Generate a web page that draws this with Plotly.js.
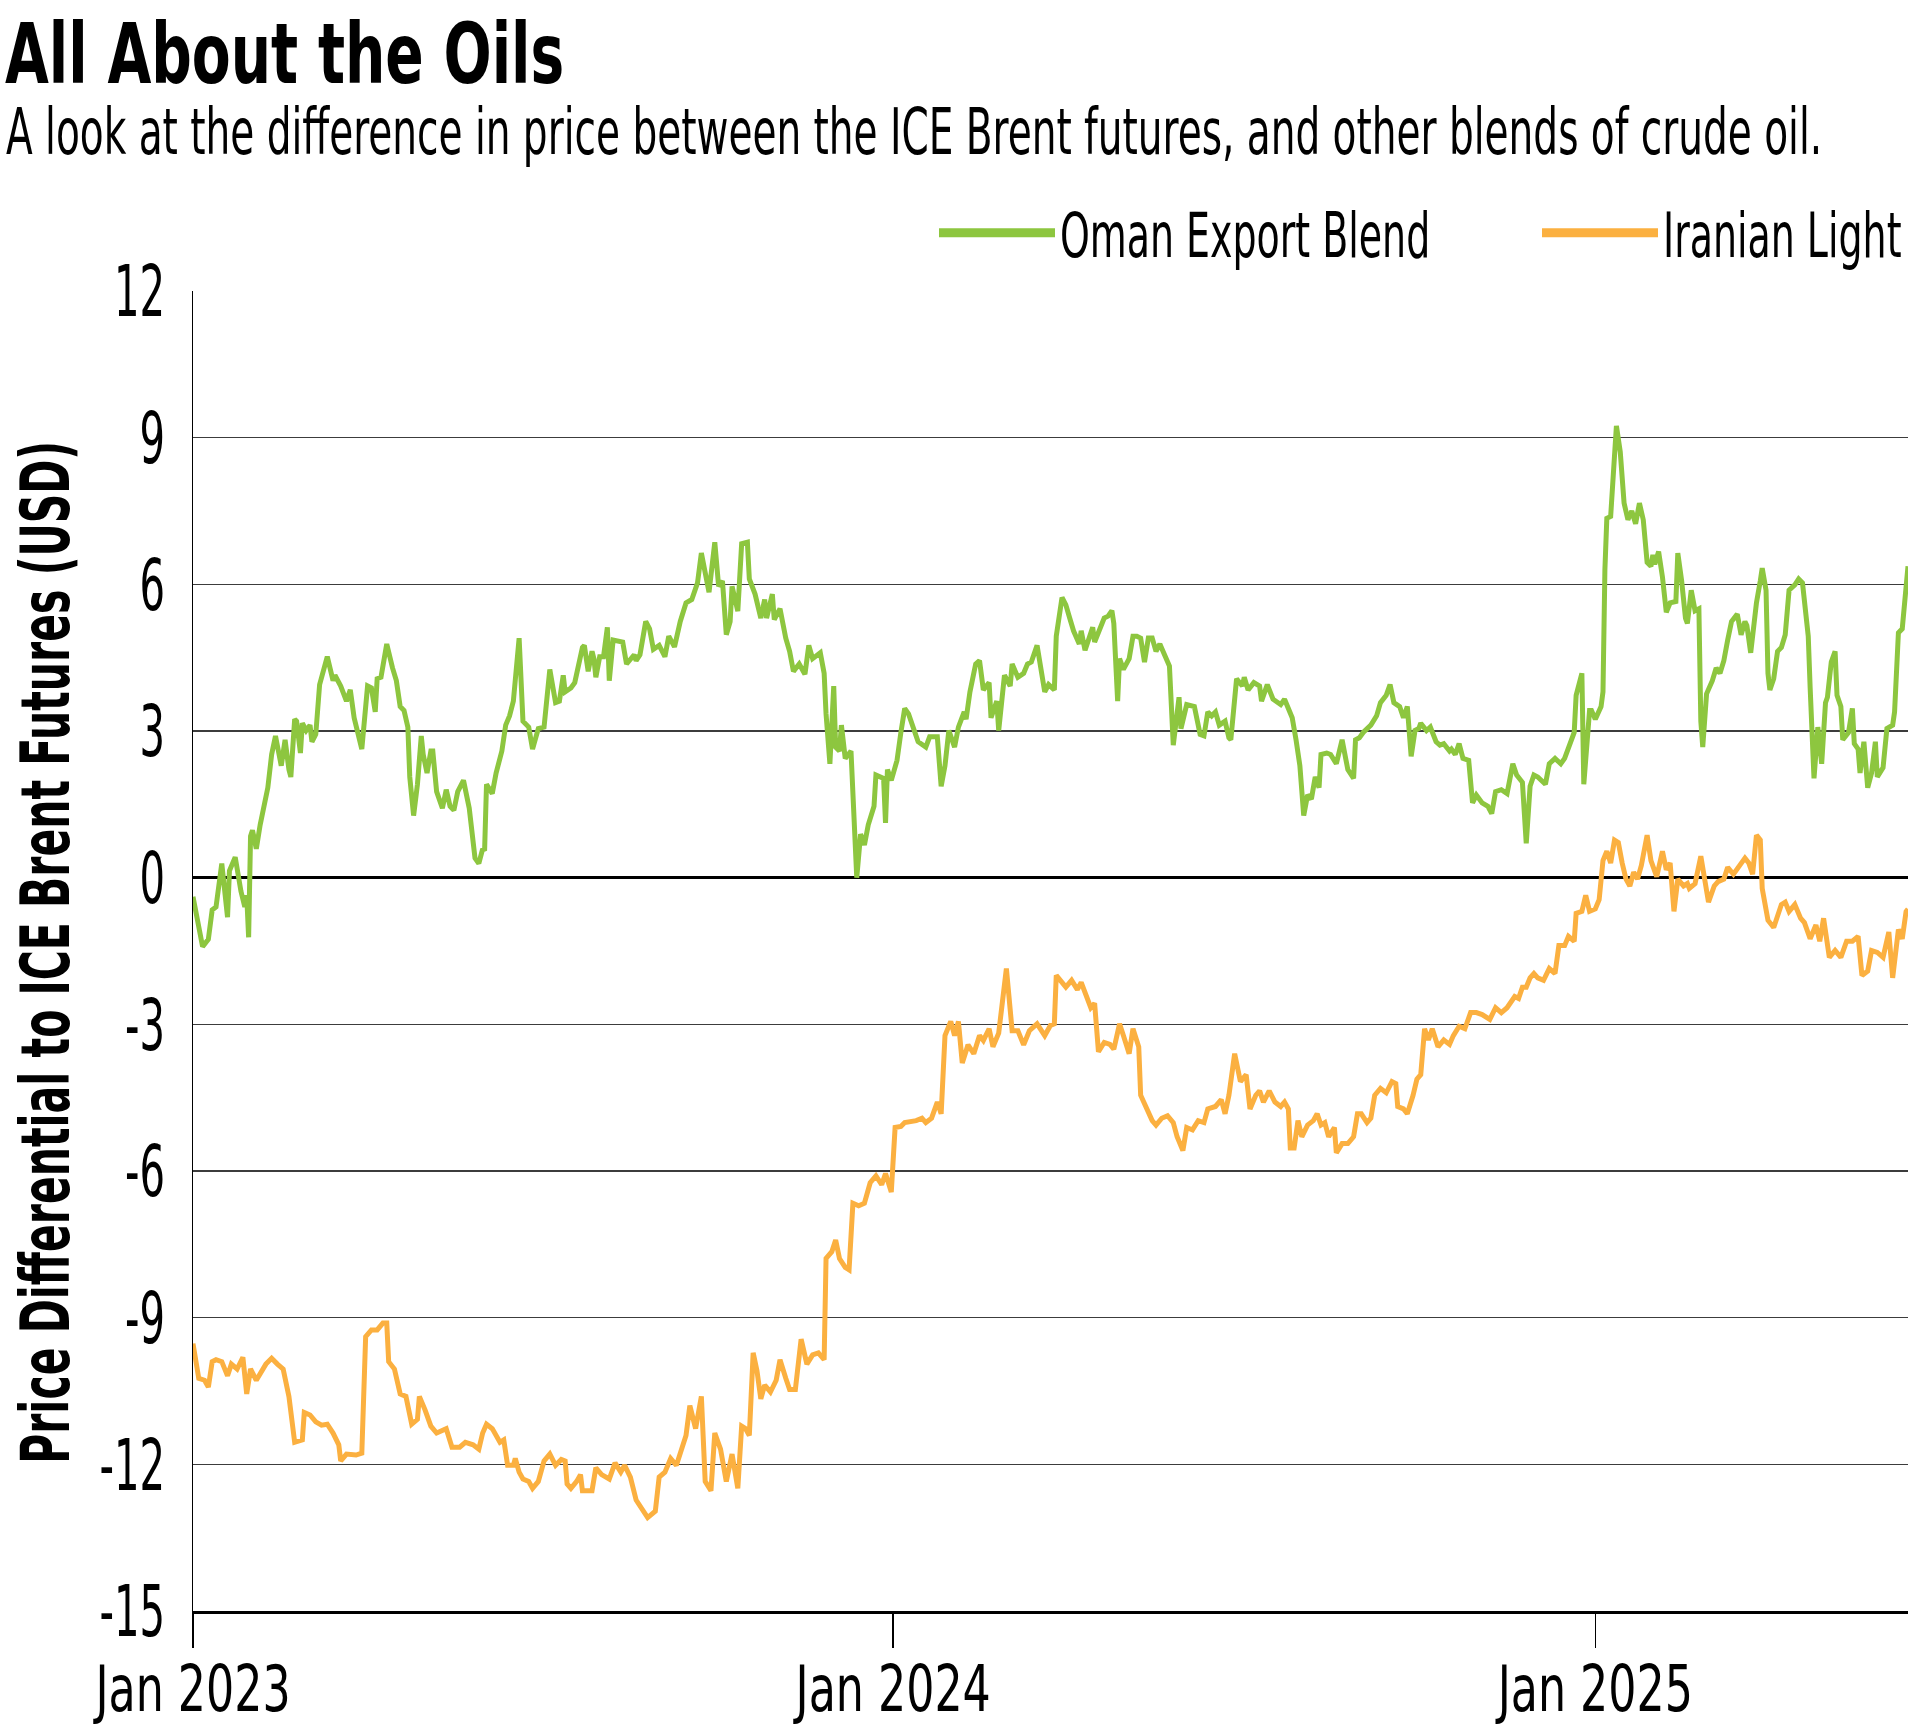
<!DOCTYPE html>
<html>
<head>
<meta charset="utf-8">
<script src="https://cdn.plot.ly/plotly-3.0.1.min.js"></script>
<style>
  html, body { margin: 0; padding: 0; background: #ffffff; }
  #chart { width: 1931px; height: 1725px; }
</style>
</head>
<body>
<div id="chart"></div>
<script>
// ---------------- DATA ----------------
const chartTitle = 'All About the Oils';
const chartSubtitle = 'A look at the difference in price between the ICE Brent futures, and other blends of crude oil.';
const yAxisTitle = 'Price Differential to ICE Brent Futures (USD)';
const seriesNames = ['Oman Export Blend', 'Iranian Light'];
const seriesColors = ['#8DC63F', '#FBB040'];

// [day counted from startDate, value in USD relative to ICE Brent futures]
const startDate = '2023-01-01';

const omanPoints = [
[0,-0.39],[5,-1.41],[8,-1.26],[10,-0.66],[12,-0.6],[15,0.29],[18,-0.81],[19,0.14],[22,0.42],[24,-0.13],[25,-0.28],[27,-0.6],[28,-0.36],[29,-1.22],[30,0.85],[31,0.97],[33,0.59],[35,1.08],[38,1.61],[39,1.84],[41,2.52],[43,2.9],[46,2.29],[48,2.82],[50,2.21],[51,2.06],[53,3.24],[54,3.2],[56,2.55],[57,3.16],[59,3.01],[61,3.12],[62,2.78],[64,2.93],[66,3.95],[70,4.52],[73,4.03],[74,4.14],[77,3.92],[78,3.8],[80,3.61],[82,3.84],[84,3.27],[88,2.63],[91,3.92],[93,3.88],[95,3.39],[96,4.07],[98,4.1],[101,4.78],[103,4.41],[104,4.29],[106,4.03],[108,3.5],[110,3.42],[112,3.08],[113,2.06],[115,1.27],[117,1.91],[119,2.9],[120,2.52],[122,2.14],[124,2.59],[125,2.59],[127,1.76],[130,1.42],[132,1.8],[134,1.46],[136,1.38],[138,1.76],[141,1.99],[144,1.42],[147,0.4],[149,0.29],[151,0.59],[152,0.55],[153,1.91],[156,1.72],[158,2.14],[161,2.59],[163,3.12],[165,3.31],[167,3.61],[170,4.9],[172,3.2],[175,3.08],[177,2.63],[180,3.05],[183,3.08],[186,4.26],[189,3.58],[191,3.61],[193,4.14],[194,3.8],[197,3.88],[199,3.99],[203,4.71],[204,4.75],[206,4.22],[208,4.63],[209,4.48],[210,4.1],[212,4.52],[214,4.52],[216,5.12],[217,4.03],[219,4.86],[222,4.82],[224,4.82],[226,4.37],[230,4.56],[231,4.44],[233,4.56],[236,5.24],[238,5.09],[240,4.67],
[243,4.75],[246,4.52],[248,4.94],[251,4.72],[254,5.24],[257,5.62],[260,5.69],[263,6.03],[265,6.64],[269,5.84],[272,6.86],[274,5.96],[276,6.07],[278,4.97],[280,5.24],[281,5.96],[284,5.45],[286,6.83],[289,6.86],[290,6.11],[293,5.8],[296,5.31],[298,5.69],[299,5.31],[302,5.8],[303,5.28],[306,5.5],[309,4.9],[311,4.63],[313,4.22],[316,4.37],[319,4.16],[321,4.75],[323,4.48],[327,4.6],[329,4.18],[330,3.35],[332,2.33],[334,3.92],[335,2.67],[337,2.59],[338,3.12],[340,2.44],[343,2.59],[344,1.84],[346,0.0],[348,0.89],[350,0.67],[352,1.08],[355,1.46],[356,2.1],[360,2.03],[361,1.12],[362,2.21],[364,1.99],[367,2.4],[369,2.97],[371,3.46],[373,3.35],[376,2.97],[378,2.78],[382,2.67],[384,2.88],[388,2.88],[390,1.87],[392,2.29],[394,3.01],[397,2.67],[399,3.08],[402,3.39],[403,3.24],[405,3.8],[408,4.37],[410,4.44],[412,3.84],[415,3.99],[416,3.27],[419,3.61],[420,3.01],[423,4.14],[426,3.92],[427,4.37],[430,4.1],[433,4.18],[435,4.37],[437,4.41],[440,4.75],[444,3.8],[446,3.95],[449,3.84],[450,4.94],[453,5.73],[455,5.58],[457,5.31],[459,5.05],[462,4.78],[463,5.05],[465,4.65],[467,4.86],[469,5.12],[470,4.82],[472,5.01],[475,5.31],[477,5.35],[479,5.46],[480,5.2],
[482,3.61],[483,4.48],[485,4.26],[488,4.48],[490,4.94],[492,4.94],[494,4.9],[496,4.41],[498,4.9],[500,4.9],[502,4.63],[504,4.78],[507,4.48],[509,4.33],[511,2.71],[514,3.69],[515,3.05],[518,3.54],[522,3.5],[525,2.93],[527,2.9],[529,3.39],[531,3.31],[533,3.39],[535,3.12],[538,3.2],[540,2.86],[541,2.82],[544,4.07],[547,3.92],[548,4.1],[550,3.84],[553,3.99],[556,3.92],[557,3.61],[560,3.95],[563,3.65],[567,3.54],[569,3.65],[573,3.27],[575,2.82],[577,2.29],[579,1.27],[581,1.69],[583,1.61],[585,2.06],[587,1.84],[588,2.52],[591,2.55],[593,2.52],[596,2.33],[598,2.71],[599,2.82],[602,2.21],[605,2.03],[606,2.82],[608,2.86],[610,2.97],[614,3.12],[617,3.31],[619,3.58],[622,3.73],[624,3.95],[626,3.58],[629,3.5],[631,3.27],[633,3.5],[635,2.48],[637,3.01],[639,3.05],[640,3.16],[643,3.01],[645,3.08],[648,2.78],[650,2.71],[652,2.74],[655,2.59],[656,2.63],[658,2.52],[660,2.74],[662,2.44],[665,2.4],[667,1.53],[669,1.69],[672,1.53],[675,1.46],[677,1.31],[679,1.76],[682,1.8],[685,1.72],[688,2.33],[690,2.1],[693,1.95],[695,0.7],[697,1.87],[699,2.1],[701,2.06],[705,1.91],[707,2.33],[710,2.44],
[713,2.33],[715,2.44],[717,2.63],[720,2.97],[721,3.73],[722,3.88],[724,4.18],[725,1.91],[728,3.42],[729,3.42],[731,3.24],[734,3.5],[735,3.8],[736,6.3],[737,7.35],[739,7.39],[741,8.87],[742,9.24],[744,8.71],[746,7.66],[748,7.32],[750,7.5],[752,7.24],[754,7.66],[756,7.32],[758,6.45],[760,6.37],[761,6.6],[762,6.41],[764,6.67],[766,6.15],[768,5.43],[770,5.62],[773,5.65],[774,6.64],[776,6.07],[778,5.31],[779,5.2],[781,5.88],[783,5.46],[785,5.5],[786,3.2],[787,2.67],[789,3.76],[792,4.03],[794,4.29],[796,4.18],[798,4.44],[800,4.86],[802,5.24],[805,5.39],[807,4.97],[809,5.24],[810,5.16],[812,4.6],[815,5.62],[817,6.07],[818,6.33],[820,5.88],[821,4.18],[822,3.84],[824,4.07],[826,4.63],[828,4.71],[830,4.97],[832,5.88],[835,5.99],[837,6.11],[839,6.03],[842,4.94],[843,3.88],[845,2.03],[847,3.08],[849,2.33],[851,3.58],[852,3.69],[854,4.41],[856,4.63],[857,3.73],[859,3.5],[860,2.82],[863,2.97],[865,3.46],[866,2.74],[868,2.63],[869,2.14],[871,2.78],[873,1.84],[875,2.14],[877,2.78],[878,2.06],[881,2.25],[883,3.05],[886,3.12],[887,3.39],[889,5.01],[891,5.09],[894,6.37]
];

const iranPoints = [
[0,-9.53],[3,-10.24],[6,-10.28],[8,-10.42],[10,-9.9],[12,-9.86],[15,-9.9],[18,-10.19],[20,-9.95],[23,-10.05],[26,-9.81],[28,-10.56],[30,-10.05],[33,-10.28],[38,-9.95],[41,-9.83],[44,-9.95],[47,-10.05],[50,-10.61],[53,-11.55],[57,-11.5],[58,-10.94],[61,-10.99],[64,-11.13],[67,-11.2],[70,-11.18],[73,-11.36],[76,-11.6],[77,-11.93],[80,-11.79],[85,-11.81],[88,-11.77],[90,-9.39],[93,-9.25],[96,-9.25],[99,-9.11],[101,-9.11],[102,-9.9],[105,-10.05],[108,-10.56],[111,-10.61],[114,-11.18],[117,-11.08],[118,-10.61],[121,-10.89],[124,-11.22],[127,-11.36],[132,-11.27],[135,-11.65],[139,-11.65],[142,-11.55],[146,-11.6],[149,-11.69],[151,-11.36],[153,-11.18],[156,-11.27],[160,-11.55],[162,-11.5],[164,-12.02],[167,-12.02],[168,-11.88],[170,-12.16],[172,-12.3],[175,-12.35],[177,-12.49],[180,-12.35],[183,-11.93],[186,-11.79],[189,-12.02],[192,-11.9],[194,-11.93],[195,-12.4],[197,-12.49],[200,-12.35],[202,-12.21],[203,-12.54],[208,-12.54],[210,-12.07],[213,-12.21],[217,-12.3],[220,-11.97],[223,-12.16],[225,-12.02],[228,-12.26],[231,-12.73],[234,-12.9],[237,-13.09],[241,-12.96],[243,-12.26],[246,-12.16],[249,-11.88],[252,-12.02],[254,-11.74],[257,-11.41],[259,-10.8],[262,-11.27],[265,-10.61],[267,-12.35],[270,-12.54],[272,-11.36],[275,-11.69],[278,-12.35],[281,-11.79],[284,-12.49],[286,-11.22],[288,-11.27],[290,-11.41],[292,-9.72],[294,-10.09],[296,-10.66],[298,-10.38],[301,-10.52],[304,-10.28],[306,-9.86],[309,-10.24],[311,-10.47],[314,-10.47],[317,-9.44],[320,-9.95],[323,-9.76],[326,-9.72],[329,-9.86],[330,-7.79],[333,-7.65],[335,-7.41],[337,-7.79],[340,-7.97],[342,-8.02],[344,-6.66],[347,-6.71],[350,-6.66],[353,-6.24],[356,-6.1],[359,-6.28],[361,-6.05],[364,-6.43],[366,-5.11],[369,-5.09],[371,-5.01],[374,-4.99],[377,-4.97],[380,-4.92],[382,-5.01],[385,-4.92],[388,-4.59],[390,-4.83],[392,-3.23],[395,-2.94],[397,-3.23],[399,-2.94],[401,-3.79],[404,-3.42],[407,-3.6],[410,-3.23],[412,-3.33],[415,-3.09],[417,-3.46],[420,-3.18],[422,-2.57],[424,-1.86],[427,-3.13],[430,-3.13],[433,-3.42],[436,-3.13],[440,-2.99],[444,-3.23],[447,-3.02],[449,-2.99],[450,-2.0],[455,-2.24],
[458,-2.1],[461,-2.29],[463,-2.14],[466,-2.43],[468,-2.66],[470,-2.57],[472,-3.56],[475,-3.37],[478,-3.41],[480,-3.51],[483,-2.99],[485,-3.23],[488,-3.6],[490,-3.09],[493,-3.46],[494,-4.45],[497,-4.73],[500,-4.97],[502,-5.06],[505,-4.92],[508,-4.87],[511,-5.01],[513,-5.3],[516,-5.58],[518,-5.11],[521,-5.16],[524,-4.97],[527,-5.01],[529,-4.73],[533,-4.68],[536,-4.54],[538,-4.83],[540,-4.45],[543,-3.6],[546,-4.17],[549,-4.03],[551,-4.73],[554,-4.45],[556,-4.36],[558,-4.59],[561,-4.36],[564,-4.59],[567,-4.68],[569,-4.59],[571,-4.73],[572,-5.53],[574,-5.53],[576,-4.97],[578,-5.3],[581,-5.06],[584,-4.97],[586,-4.83],[588,-5.06],[590,-5.01],[592,-5.3],[595,-5.11],[596,-5.63],[599,-5.44],[602,-5.44],[605,-5.3],[607,-4.83],[609,-4.83],[612,-5.01],[614,-4.92],[616,-4.45],[619,-4.31],[622,-4.4],[625,-4.17],[627,-4.21],[628,-4.68],[631,-4.73],[633,-4.83],[636,-4.45],[638,-4.12],[640,-4.03],[642,-3.09],[644,-3.32],[646,-3.09],[649,-3.46],[652,-3.32],[655,-3.41],[657,-3.23],[660,-3.04],[663,-3.09],[666,-2.76],[669,-2.76],[672,-2.8],[676,-2.9],[679,-2.66],[682,-2.76],[685,-2.66],[687,-2.52],[689,-2.43],[691,-2.47],[693,-2.24],[695,-2.24],[697,-2.05],[699,-1.96],[701,-2.05],[704,-2.1],[707,-1.86],[710,-1.96],[712,-1.39],[715,-1.39],[717,-1.2],[720,-1.3],[721,-0.73],[724,-0.69],[726,-0.36],[728,-0.69],[731,-0.64],[733,-0.45],[735,0.35],[737,0.54],[739,0.3],[741,0.77],[743,0.72],[745,0.3],[747,-0.03],[749,-0.17],[751,0.11],[753,-0.03],[755,0.25],[758,0.87],[760,0.35],[763,0.02],[766,0.54],[768,0.16],[770,0.3],[772,-0.69],[774,-0.03],[777,-0.17],[779,-0.12],[780,-0.22],[783,-0.12],[786,0.44],[788,-0.03],[790,-0.5],[793,-0.17],[795,-0.08],[798,-0.03],[800,0.21],[803,0.07],[806,0.25],[809,0.4],[811,0.3],[813,0.07],[815,0.87],[817,0.77],[818,-0.22],[821,-0.87],[824,-1.02],[826,-0.78],[828,-0.55],[830,-0.5],[832,-0.69],[835,-0.55],[838,-0.83],[840,-0.92],[843,-1.25],[846,-0.97],[848,-1.3],[850,-0.83],[853,-1.63],[856,-1.49],[859,-1.63],[862,-1.3],[865,-1.3],[868,-1.2],[870,-2.0],[873,-1.91],[875,-1.49],[878,-1.53],[881,-1.63],[884,-1.11],[886,-2.05],[889,-1.06],[891,-1.25],[893,-0.69],[894,-0.64]
];

const yTickValues = [-15, -12, -9, -6, -3, 0, 3, 6, 9, 12];
const yTickLabels = ['-15', '-12', '-9', '-6', '-3', '0', '3', '6', '9', '12'];
const xTickValues = ['2023-01-01', '2024-01-01', '2025-01-01'];
const xTickLabels = ['Jan 2023', 'Jan 2024', 'Jan 2025'];
const xRange = ['2023-01-01', '2025-06-13'];
const yRange = [-15, 12];

// ---------------- BUILD ----------------
const FONT = '"DejaVu Sans Condensed", "Liberation Sans Narrow", "DejaVu Sans", sans-serif';
const base = Date.UTC(+startDate.slice(0, 4), +startDate.slice(5, 7) - 1, +startDate.slice(8, 10));
function toDate(d) { return new Date(base + d * 86400000).toISOString().slice(0, 10); }

function lineTrace(points, i) {
  return {
    type: 'scatter', mode: 'lines', name: seriesNames[i],
    x: points.map(p => toDate(p[0])), y: points.map(p => p[1]),
    line: { color: seriesColors[i], width: 5 },
    showlegend: false, hoverinfo: 'skip'
  };
}
function legendTrace(i, legendId) {
  return {
    type: 'scatter', mode: 'lines', name: seriesNames[i],
    x: [null], y: [null],
    line: { color: seriesColors[i], width: 9 },
    showlegend: true, legend: legendId
  };
}

const traces = [
  lineTrace(omanPoints, 0),
  lineTrace(iranPoints, 1),
  legendTrace(0, 'legend'),
  legendTrace(1, 'legend2')
];

const W = 1931, H = 1725;
const M = { l: 193, r: 23, t: 291, b: 114 };
const plotW = W - M.l - M.r, plotH = H - M.t - M.b;
const px2x = px => (px - M.l) / plotW;
const px2y = py => 1 - (py - M.t) / plotH;

const legendCommon = {
  orientation: 'h', xref: 'container', yref: 'container',
  xanchor: 'left', yanchor: 'middle', y: 1 - 233 / H,
  font: { family: FONT, size: 62, color: '#000' },
  itemwidth: 116, bgcolor: 'rgba(0,0,0,0)', borderwidth: 0,
  itemclick: false, itemdoubleclick: false
};

const layout = {
  width: W, height: H,
  margin: { l: M.l, r: M.r, t: M.t, b: M.b, pad: 0 },
  paper_bgcolor: '#ffffff', plot_bgcolor: '#ffffff',
  font: { family: FONT, color: '#000' },
  title: {
    text: chartTitle,
    font: { family: FONT, size: 84, weight: 'bold', color: '#000' },
    xref: 'container', yref: 'container',
    x: 5 / W, xanchor: 'left',
    y: 1 - 24 / H, yanchor: 'top', pad: { t: 0, b: 0, l: 0, r: 0 }
  },
  annotations: [
    {
      text: chartSubtitle, showarrow: false, align: 'left',
      xref: 'paper', yref: 'paper',
      x: px2x(4), xanchor: 'left',
      y: px2y(132), yanchor: 'middle',
      font: { family: FONT, size: 64, color: '#000' }
    },
    {
      text: yAxisTitle, showarrow: false, textangle: -90,
      xref: 'paper', yref: 'paper',
      x: px2x(46), xanchor: 'center',
      y: px2y(953), yanchor: 'middle',
      font: { family: FONT, size: 68, weight: 'bold', color: '#000' }
    }
  ],
  showlegend: true,
  legend: Object.assign({}, legendCommon, { x: 934 / W }),
  legend2: Object.assign({}, legendCommon, { x: 1537 / W }),
  xaxis: {
    type: 'date', range: xRange,
    tickmode: 'array', tickvals: xTickValues, ticktext: xTickLabels,
    ticks: 'outside', ticklen: 34, tickwidth: 1.5, tickcolor: '#000',
    ticklabelstandoff: -14,
    showgrid: false, zeroline: false,
    showline: true, linecolor: '#000', linewidth: 3,
    tickfont: { family: FONT, size: 64, color: '#000' },
    fixedrange: true
  },
  yaxis: {
    range: yRange,
    tickmode: 'array', tickvals: yTickValues, ticktext: yTickLabels,
    ticks: '', ticklabelstandoff: 12,
    showgrid: true, gridcolor: '#3c3c3c', gridwidth: 1.3,
    zeroline: true, zerolinecolor: '#000', zerolinewidth: 3,
    showline: true, linecolor: '#000', linewidth: 1.5,
    tickfont: { family: FONT, size: 72, color: '#000' },
    fixedrange: true
  }
};

// The reference uses a very condensed typeface: each text is narrowed horizontally
// around its own anchor point (text stays real, selectable SVG text).
const squeezeRules = [
  ['.gtitle', 0.75, 'tf'],
  ['.annotation[data-index="0"] .annotation-text', 0.678, 'tf'],
  ['.annotation[data-index="1"] .annotation-text', 0.67, 'tf'],
  ['.legendtext, .legend2text', 0.68, 'tf'],
  ['.xtick text', 0.77, 'len'],
  ['.ytick text', 0.62, 'len']
];

function squeezeText(t, f, mode) {
  const txt = t.textContent;
  if (t.getAttribute('data-sq') === txt) return;
  const nat = t.getComputedTextLength();
  if (!(nat > 0)) return;
  if (mode === 'len') {
    t.setAttribute('textLength', (nat * f).toFixed(1));
    t.setAttribute('lengthAdjust', 'spacingAndGlyphs');
  } else {
    const x0 = parseFloat(t.getAttribute('x')) || 0;
    let baseTf = t.getAttribute('data-base-tf');
    if (baseTf === null) { baseTf = t.getAttribute('transform') || ''; t.setAttribute('data-base-tf', baseTf); }
    t.setAttribute('transform', (baseTf + ' translate(' + x0 + ',0) scale(' + f + ',1) translate(' + (-x0) + ',0)').trim());
  }
  t.setAttribute('data-nat', nat.toFixed(1));
  t.setAttribute('data-f', f);
  t.setAttribute('data-sq', txt);
}

// shrink the invisible background boxes so they follow the narrowed texts
function shrinkRect(r, t, centered) {
  if (!r || !t || r.getAttribute('data-fit') === t.getAttribute('data-sq')) return;
  const nat = parseFloat(t.getAttribute('data-nat'));
  const f = parseFloat(t.getAttribute('data-f'));
  if (!(nat > 0) || !(f > 0)) return;
  const d = nat * (1 - f);
  const w = parseFloat(r.getAttribute('width')) || 0;
  r.setAttribute('width', Math.max(0, w - d).toFixed(1));
  if (centered) r.setAttribute('x', ((parseFloat(r.getAttribute('x')) || 0) + d / 2).toFixed(1));
  r.setAttribute('data-fit', t.getAttribute('data-sq'));
}

function applySqueeze(gd) {
  squeezeRules.forEach(([sel, f, mode]) => gd.querySelectorAll(sel).forEach(t => squeezeText(t, f, mode)));
  gd.querySelectorAll('.annotation').forEach(a => {
    const t = a.querySelector('.annotation-text');
    if (t) shrinkRect(a.querySelector('rect.bg'), t, t.getAttribute('text-anchor') === 'middle');
  });
  ['legend', 'legend2'].forEach(id => {
    const g = gd.querySelector('g.' + id);
    if (!g) return;
    const t = g.querySelector('.' + id + 'text');
    if (t) shrinkRect(g.querySelector('rect.bg'), t, false);
  });
}

Plotly.newPlot('chart', traces, layout, { displayModeBar: false, staticPlot: true }).then(gd => {
  applySqueeze(gd);
  gd.on('plotly_afterplot', () => applySqueeze(gd));
  const obs = new MutationObserver(() => applySqueeze(gd));
  obs.observe(gd, { childList: true, subtree: true, characterData: true });
});
</script>
</body>
</html>
